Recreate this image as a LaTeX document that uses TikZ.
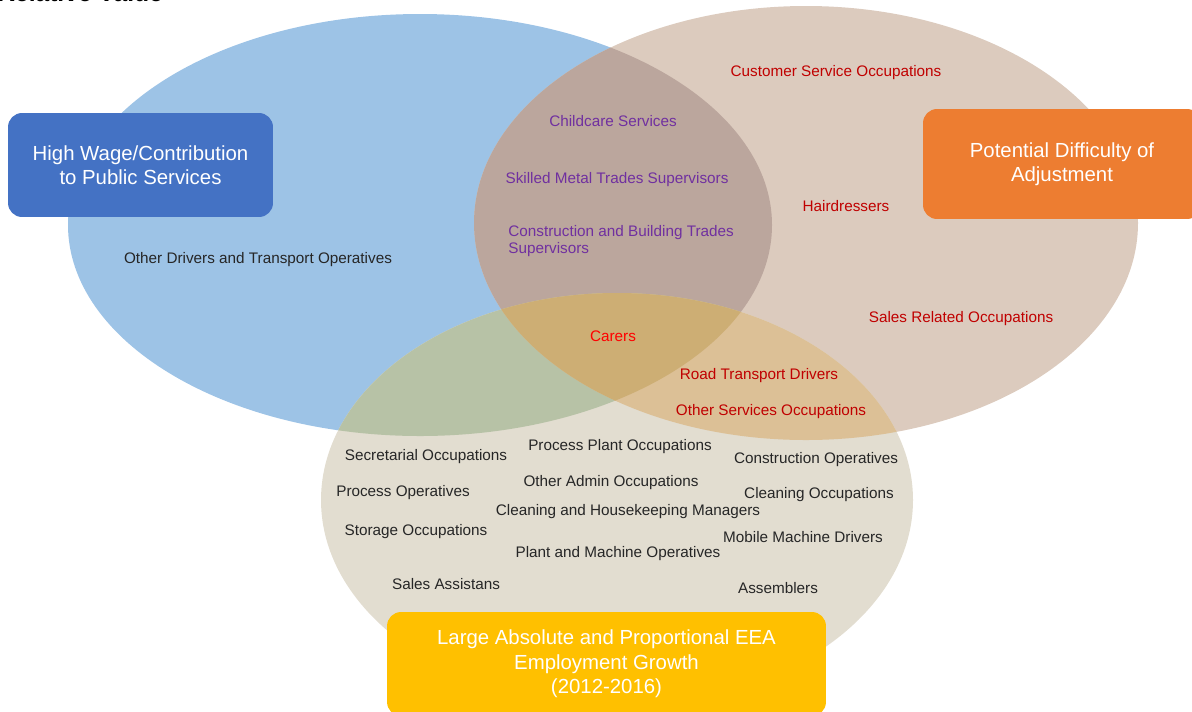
\documentclass[tikz,border=0pt]{standalone}
\usepackage{fontspec}
\setmainfont{Liberation Sans}

\definecolor{wageblue}{HTML}{9DC3E6}
\definecolor{adjtan}{HTML}{DCCBBE}
\definecolor{growgrey}{HTML}{E2DDD0}
\definecolor{wageadj}{HTML}{BBA69D}
\definecolor{wagegrow}{HTML}{B7C2A6}
\definecolor{adjgrow}{HTML}{DCC096}
\definecolor{allthree}{HTML}{CDAE74}
\definecolor{boxblue}{HTML}{4472C4}
\definecolor{boxorange}{HTML}{ED7D31}
\definecolor{boxyellow}{HTML}{FFC000}
\definecolor{occpurple}{HTML}{7030A0}
\definecolor{occred}{HTML}{C00000}
\definecolor{occgrey}{HTML}{262626}

\newcommand{\wageell}{(420,225) ellipse [x radius=352, y radius=211]}
\newcommand{\adjell}{(806,223) ellipse [x radius=332, y radius=217]}
\newcommand{\growell}{(617,500) ellipse [x radius=296, y radius=207]}

\begin{document}
\begin{tikzpicture}[x=0.02cm, y=-0.02cm,
labelbox/.style={rectangle, rounded corners=0.28cm, text=white, align=center, inner sep=0pt, font=\fontsize{11.6}{13.9}\selectfont},
occnode/.style={inner sep=0pt, text=occgrey, font=\fontsize{8.7}{9.7}\selectfont},
purplenode/.style={occnode, text=occpurple},
rednode/.style={occnode, text=occred},
]
\useasboundingbox (0,0) rectangle (1192,711);

%Circles
\fill[wageblue] \wageell;
\fill[adjtan] \adjell;
\fill[growgrey] \growell;
\begin{scope}
\clip \wageell;
\fill[wageadj] \adjell;
\fill[wagegrow] \growell;
\end{scope}
\begin{scope}
\clip \adjell;
\fill[adjgrow] \growell;
\end{scope}
\begin{scope}
\clip \wageell;
\clip \adjell;
\fill[allthree] \growell;
\end{scope}

%Title
\node[anchor=base west, inner sep=0pt, font=\bfseries\fontsize{14}{16}\selectfont] (title) at (-3,1) {Relative Value};

%Boxes
\node[labelbox, fill=boxblue, minimum width=5.3cm, minimum height=2.08cm] (wage) at (140.5,165) {High Wage/Contribution\\to Public Services};
\node[labelbox, fill=boxorange, minimum width=5.56cm, minimum height=2.2cm] (adjust) at (1062,164) {Potential Difficulty of\\Adjustment};
\node[labelbox, fill=boxyellow, minimum width=8.78cm, minimum height=2.08cm] (growth) at (606.5,664) {Large Absolute and Proportional EEA\\Employment Growth\\(2012-2016)};

%Occupations
\node[occnode]    (drivers)   at (258,260) {Other Drivers and Transport Operatives};
\node[purplenode] (childcare) at (613,121) {Childcare Services};
\node[purplenode] (metal)     at (617,180) {Skilled Metal Trades Supervisors};
\node[purplenode, anchor=north west, align=left] (building) at (508,225) {Construction and Building Trades\\Supervisors};
\node[rednode]    (customer)  at (836,73)  {Customer Service Occupations};
\node[rednode]    (hair)      at (846,206) {Hairdressers};
\node[rednode]    (salesrel)  at (961,319) {Sales Related Occupations};
\node[rednode, text=red] (carers) at (613,336) {Carers};
\node[rednode]    (road)      at (759,376) {Road Transport Drivers};
\node[rednode]    (services)  at (771,412) {Other Services Occupations};
\node[occnode]    (secretary) at (426,457) {Secretarial Occupations};
\node[occnode]    (plant)     at (620,447) {Process Plant Occupations};
\node[occnode]    (constr)    at (816,460) {Construction Operatives};
\node[occnode]    (admin)     at (611,483) {Other Admin Occupations};
\node[occnode]    (process)   at (403,493) {Process Operatives};
\node[occnode]    (cleaning)  at (819,495) {Cleaning Occupations};
\node[occnode]    (housekeep) at (628,512) {Cleaning and Housekeeping Managers};
\node[occnode]    (storage)   at (416,532) {Storage Occupations};
\node[occnode]    (mobile)    at (803,537) {Mobile Machine Drivers};
\node[occnode]    (machine)   at (618,554) {Plant and Machine Operatives};
\node[occnode]    (assist)    at (446,584) {Sales Assistans};
\node[occnode]    (assembl)   at (778,588) {Assemblers};
\end{tikzpicture}
\end{document}
